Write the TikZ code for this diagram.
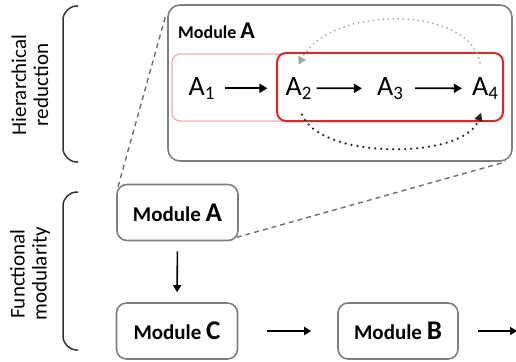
\documentclass[tikz,border=0pt]{standalone}
\usepackage{fontspec}
\setmainfont{Carlito}
\usetikzlibrary{arrows.meta,calc}
\definecolor{boxgray}{HTML}{7F7F7F}
\definecolor{redbox}{HTML}{D9272E}
\definecolor{palered}{HTML}{F2AFAF}
\definecolor{dotgray}{HTML}{A8A8A8}
\definecolor{dashgray}{HTML}{707070}
\newcommand\modtext[3]{{\fontsize{#1}{#1}\selectfont\bfseries Module\ }{\fontsize{#2}{#2}\selectfont\bfseries #3}}
\newcommand\Asub[1]{A\raisebox{-4.5pt}{\fontsize{19}{19}\selectfont #1}}
\begin{document}
\begin{tikzpicture}[x=1pt,y=-1pt,
  bracket/.style={draw=black!80, line width=1.5pt, rounded corners=14pt},
  lab/.style={align=center, inner sep=0pt, font=\fontsize{21}{22}\selectfont, rotate=90},
  bigbox/.style={draw=boxgray, line width=1.6pt, rounded corners=12pt, minimum width=344pt, minimum height=156pt, inner sep=0pt},
  palebox/.style={draw=palered, line width=1.3pt, rounded corners=8pt, minimum width=140pt, minimum height=67pt, inner sep=0pt},
  redfr/.style={draw=redbox, fill=white, line width=2pt, rounded corners=9pt, minimum width=226pt, minimum height=68pt, inner sep=0pt},
  anode/.style={inner sep=0pt, font=\fontsize{28}{28}\selectfont, anchor=base},
  smbox/.style={draw=boxgray, fill=white, line width=1.6pt, rounded corners=10pt, minimum width=121pt, minimum height=56pt, inner sep=0pt},
  arr/.style={line width=1.8pt, -{Triangle[length=8pt,width=9pt]}},
  arrtwo/.style={line width=1.6pt, -{Triangle[length=7pt,width=8pt]}},
  graydots/.style={draw=dotgray, line width=2pt, dash pattern=on 0pt off 5pt, line cap=round, -{Triangle[length=8pt,width=8pt,fill=dotgray]}},
  blackdots/.style={draw=black!85, line width=2.5pt, dash pattern=on 0pt off 6pt, line cap=round, -{Triangle[length=8pt,width=8pt]}},
  dashln/.style={draw=dashgray, line width=1.4pt, dash pattern=on 5pt off 4pt}
]
\useasboundingbox (0,0) rectangle (516,361);

% brackets and side labels
\draw[bracket] (78,6) -- (63,6) -- (63,162) -- (78,162);
\draw[bracket] (78,192) -- (63,192) -- (63,350) -- (78,350);
\node[lab] (hr) at (30,85) {Hierarchical\\reduction};
\node[lab] (fm) at (30,274) {Functional\\modularity};

% expanded module A
\node[bigbox] (big) at (340,83) {};
\node[anchor=base west, inner sep=0pt] (title) at (178,38) {\modtext{18}{24}{A}};
\node[palebox] (pale) at (242,87.5) {};
\node[redfr] (red) at (390,87) {};

\node[anode] (a1) at (201.5,95) {\Asub{1}};
\node[anode] (a2) at (298.5,95) {\Asub{2}};
\node[anode] (a3) at (390,95) {\Asub{3}};
\node[anode] (a4) at (485,95) {\Asub{4}};

\draw[arr, shorten <=10pt, shorten >=18pt] (a1.east) -- (a2.west);
\draw[arr, shorten <=5pt, shorten >=15pt] (a2.east) -- (a3.west);
\draw[arr, shorten <=12pt, shorten >=10pt] (a3.east) -- (a4.west);

\draw[graydots] ($(a4.north)+(-5,-14)$) .. controls (470,5) and (330,5) .. ($(a2.north)+(0,-12)$);
\draw[blackdots] ($(a2.south)+(3.5,15)$) .. controls (320,160) and (465,160) .. ($(a4.south)+(-4,13)$);

% functional modules
\node[smbox] (smA) at (177.5,212.5) {\modtext{21}{27}{A}};
\node[smbox] (smC) at (177,331) {\modtext{21}{27}{C}};
\node[smbox, minimum width=120pt] (smB) at (398,331) {\modtext{21}{27}{B}};
\coordinate (out) at (517,331);

\draw[arrtwo, shorten <=10pt, shorten >=10pt] (smA.south) -- (smC.north);
\draw[arrtwo, shorten <=29pt, shorten >=26pt] (smC.east) -- (smB.west);
\draw[arrtwo, shorten <=19pt] (smB.east) -- (out);

% zoom lines
\draw[dashln] ($(big.north west)+(-2,13)$) -- ($(smA.north west)+(1,6)$);
\draw[dashln] ($(smA.south east)+(-2,-4)$) -- ($(big.south east)+(-7,0)$);
\end{tikzpicture}
\end{document}
